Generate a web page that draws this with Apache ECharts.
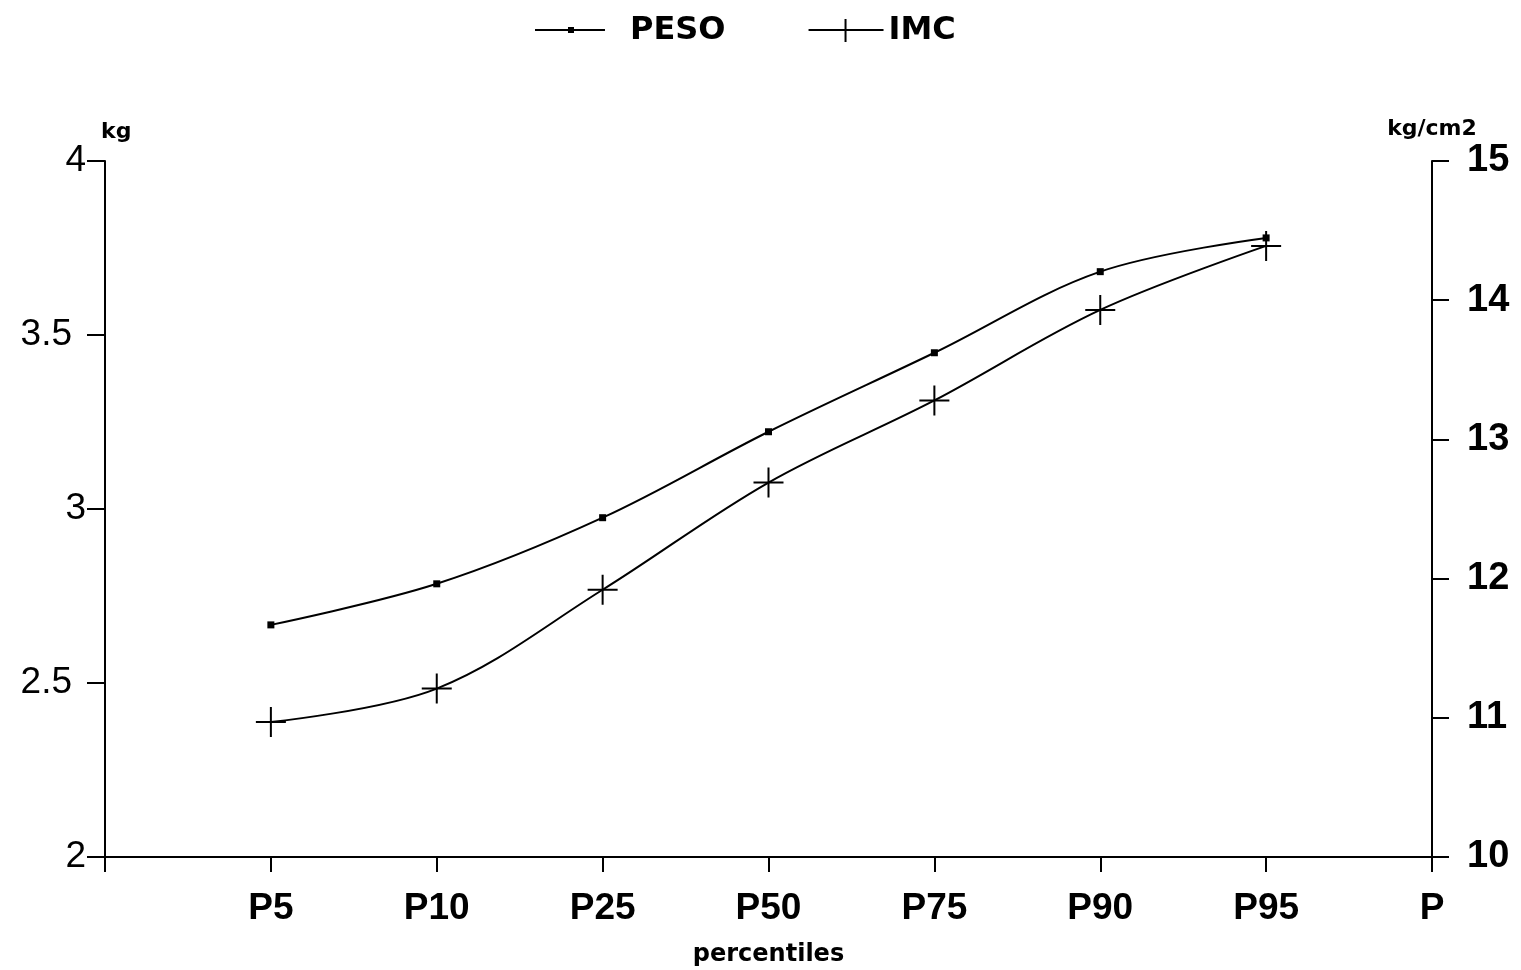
<!DOCTYPE html>
<html><head><meta charset="utf-8">
<script src="https://cdn.jsdelivr.net/npm/echarts@6/dist/echarts.min.js"></script>
<style>html,body{margin:0;padding:0;background:#fff}#c{width:1521px;height:970px}</style>
</head><body><div id="c"></div>
<script>
const categories = ['', 'P5', 'P10', 'P25', 'P50', 'P75', 'P90', 'P95', 'P'];
const peso = [null, 2.667, 2.785, 2.975, 3.222, 3.449, 3.682, 3.779, null];
const imc = [null, 10.97, 11.21, 11.92, 12.69, 13.28, 13.93, 14.39, null];
const leftTicks = [2, 2.5, 3, 3.5, 4];
const rightTicks = [10, 11, 12, 13, 14, 15];

const FONT = 'Liberation Sans';
const WIDE = 'DejaVu Sans';
const chart = echarts.init(document.getElementById('c'), null, {renderer: 'canvas'});
const crossPath = 'path://M-1,-15h2v30h-2zM-15,-1h30v2h-30z';
const pesoIcon = 'path://M0,0h0.01v0.01h-0.01zM90,30h0.01v0.01h-0.01zM0,13h70v2h-70zM33,11h6v6h-6z';
const imcIcon = 'path://M0,0h0.01v0.01h-0.01zM90,30h0.01v0.01h-0.01zM15,13h75v2h-75zM51,3h2v23h-2z';
chart.setOption({
  animation: false,
  backgroundColor: '#fff',
  textStyle: {fontFamily: FONT, color: '#000'},
  legend: {
    top: 10, left: 530,
    itemWidth: 90, itemHeight: 30, itemGap: 68,
    textStyle: {fontSize: 32, fontFamily: WIDE, color: '#000', fontWeight: 'bold'},
    data: [{name: 'PESO', icon: pesoIcon}, {name: 'IMC', icon: imcIcon}]
  },
  grid: {left: 105, right: 89, top: 161, bottom: 113, outerBoundsMode: 'none', containLabel: false},
  xAxis: {
    type: 'category', data: categories, boundaryGap: false,
    name: 'percentiles', nameLocation: 'middle', nameGap: 86,
    nameTextStyle: {fontSize: 24, fontWeight: 'bold', color: '#000', fontFamily: WIDE},
    axisLine: {lineStyle: {color: '#000', width: 2}},
    axisTick: {length: 15, lineStyle: {color: '#000', width: 2}, interval: 0},
    axisLabel: {fontSize: 37, fontWeight: 'bold', color: '#000', margin: 33, interval: 0, fontFamily: FONT},
    splitLine: {show: false}
  },
  yAxis: [{
    type: 'value', min: 2, max: 4, interval: 0.5, position: 'left',
    name: 'kg', nameLocation: 'end', nameGap: 18,
    nameTextStyle: {fontSize: 22, fontWeight: 'bold', color: '#000', fontFamily: WIDE, align: 'left', padding: [0, 0, 0, -4]},
    axisLine: {show: true, lineStyle: {color: '#000', width: 2}},
    axisTick: {show: true, length: 18, lineStyle: {color: '#000', width: 2}},
    axisLabel: {fontSize: 37, color: '#000', margin: 19, fontFamily: FONT,
      formatter: v => leftTicks.includes(v) ? (Number.isInteger(v) ? '{i|' + v + '}' : '{d|' + v + '}') : '',
      rich: {
        i: {fontSize: 37, fontFamily: FONT, color: '#000'},
        d: {fontSize: 37, fontFamily: FONT, color: '#000', padding: [0, 14, 0, 0]}
      }},
    splitLine: {show: false}
  }, {
    type: 'value', min: 10, max: 15, interval: 1, position: 'right',
    name: 'kg/cm2', nameLocation: 'end', nameGap: 21,
    nameTextStyle: {fontSize: 22, fontWeight: 'bold', color: '#000', fontFamily: WIDE, align: 'center'},
    axisLine: {show: true, lineStyle: {color: '#000', width: 2}},
    axisTick: {show: true, length: 17, lineStyle: {color: '#000', width: 2}},
    axisLabel: {fontSize: 38, fontWeight: 'bold', color: '#000', margin: 35, fontFamily: FONT,
      formatter: v => rightTicks.includes(v) ? String(v) : ''},
    splitLine: {show: false}
  }],
  series: [{
    name: 'PESO', type: 'line', yAxisIndex: 0, data: peso, smooth: 0.35,
    symbol: 'rect', symbolSize: 7,
    lineStyle: {color: '#000', width: 2},
    itemStyle: {color: '#000'}
  }, {
    name: 'IMC', type: 'line', yAxisIndex: 1, data: imc, smooth: 0.35,
    symbol: crossPath, symbolSize: 30,
    lineStyle: {color: '#000', width: 2},
    itemStyle: {color: '#000'}
  }]
});
</script></body></html>
